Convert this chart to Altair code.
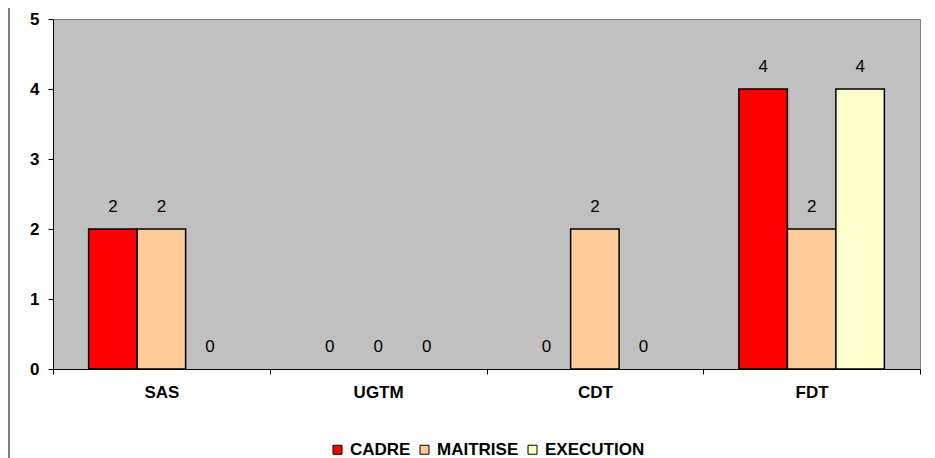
import altair as alt
import pandas as pd

categories = ["SAS", "UGTM", "CDT", "FDT"]
series = ["CADRE", "MAITRISE", "EXECUTION"]
cadre = [2, 0, 0, 4]
maitrise = [2, 0, 2, 2]
execution = [0, 0, 0, 4]
colors = ["#FF0000", "#FFCC99", "#FFFFCC"]

rows = []
for name, vals in zip(series, [cadre, maitrise, execution]):
    for c, v in zip(categories, vals):
        rows.append({"cat": c, "serie": name, "value": v})
df = pd.DataFrame(rows)

FONT = "Liberation Sans"

base = alt.Chart(df).encode(
    x=alt.X("cat:N", sort=categories, title=None,
            scale=alt.Scale(paddingInner=0, paddingOuter=0),
            axis=alt.Axis(labelAngle=0, labelFontWeight="bold", labelFontSize=17,
                          labelFont=FONT, labelColor="#000", tickBand="extent",
                          tickSize=5, tickColor="#000", domainColor="#000",
                          labelPadding=10)),
    xOffset=alt.XOffset("serie:N", sort=series,
                        scale=alt.Scale(paddingInner=0, paddingOuter=0.735)),
    y=alt.Y("value:Q", title=None,
            scale=alt.Scale(domain=[0, 5], nice=False),
            axis=alt.Axis(values=[0, 1, 2, 3, 4, 5], grid=False, labelFontWeight="bold",
                          labelFontSize=17, labelFont=FONT, labelColor="#000",
                          tickSize=5, tickColor="#000", domainColor="#000",
                          labelPadding=9, format="d")),
)

bars = base.mark_bar(stroke="black", strokeWidth=1.5).encode(
    color=alt.Color("serie:N", sort=series, title=None,
                    scale=alt.Scale(domain=series, range=colors),
                    legend=alt.Legend(orient="none", direction="horizontal",
                                      legendX=276, legendY=422,
                                      symbolType="square", symbolSize=81,
                                      symbolStrokeColor="black", symbolStrokeWidth=1,
                                      labelFontWeight="bold", labelFontSize=17,
                                      labelFont=FONT, labelColor="#000",
                                      labelOffset=4, columnPadding=5)),
).transform_filter("datum.value > 0")

labels = base.mark_text(dy=-17, baseline="alphabetic", fontSize=17, font=FONT,
                        color="#000").encode(text="value:Q")

frame = alt.Chart(pd.DataFrame({"k": [0]})).mark_rule(color="#000", strokeWidth=1).encode(
    x=alt.value(-44), y=alt.value(-20), y2=alt.value(450))

chart = alt.layer(bars, labels, frame).properties(
    width=867, height=350,
    autosize=alt.AutoSizeParams(type="none"),
    padding={"left": 45, "top": 11, "right": 7, "bottom": 89},
    view=alt.ViewBackground(fill="#C0C0C0", stroke="#808080", strokeWidth=1),
    background="white",
)

chart.save("out.html", embed_options={"renderer": "svg", "actions": False})
